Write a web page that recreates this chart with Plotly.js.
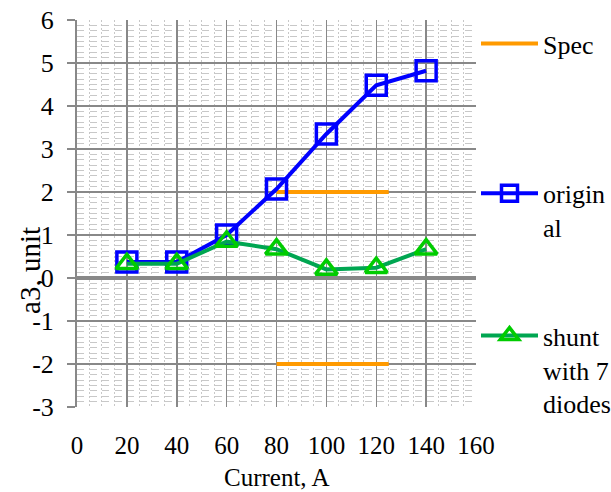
<!DOCTYPE html>
<html>
<head>
<meta charset="utf-8">
<script src="https://cdn.plot.ly/plotly-3.0.1.min.js"></script>
<style>html,body{margin:0;padding:0;background:#fff;}#chart{width:611px;height:492px;}</style>
</head>
<body>
<div id="chart"></div>
<script>
// ---- data ----
const currents = [20, 40, 60, 80, 100, 120, 140];
const originalValues = [0.37, 0.37, 1.0, 2.07, 3.35, 4.48, 4.82];
const shuntValues = [0.33, 0.33, 0.85, 0.67, 0.2, 0.24, 0.67];
const specX = [80, 125, null, 80, 125];
const specY = [2, 2, null, -2, -2];
const xTicks = [0, 20, 40, 60, 80, 100, 120, 140, 160];
const yTicks = [-3, -2, -1, 0, 1, 2, 3, 4, 5, 6];
const names = {spec: 'Spec', original: 'origin<br>al', shunt: 'shunt<br>with 7<br>diodes'};
const xTitle = 'Current, A';
const yTitle = 'a3, unit';

const FONT = '"Liberation Serif"';
const FS = 26;
const GRID = '#888888';
const MINOR = '#c8c8c8';
const txt = (s) => ({family: FONT, size: s || FS, color: '#000'});

const traces = [
  {
    x: specX, y: specY, mode: 'lines', name: names.spec, legend: 'legend',
    connectgaps: false,
    line: {color: '#FF9A00', width: 4}
  },
  {
    x: currents, y: originalValues, mode: 'lines+markers', name: names.original, legend: 'legend2',
    line: {color: '#0000FF', width: 4},
    marker: {symbol: 'square-open', size: 20, color: '#0000FF', line: {width: 3.5, color: '#0000FF'}}
  },
  {
    x: currents, y: shuntValues, mode: 'lines+markers', name: names.shunt, legend: 'legend3',
    line: {color: '#00A651', width: 4},
    marker: {symbol: 'triangle-up-open', size: 19, color: '#00CC00', line: {width: 3.5, color: '#00CC00'}}
  }
];

const legendBase = () => ({
  xanchor: 'left', yanchor: 'top', valign: 'top',
  bgcolor: 'rgba(0,0,0,0)', borderwidth: 0,
  font: txt(),
  itemwidth: 57, tracegroupgap: 0
});

const layout = {
  width: 611, height: 492,
  margin: {l: 77, r: 135, t: 20, b: 85, autoexpand: false},
  paper_bgcolor: '#fff', plot_bgcolor: '#fff',
  font: txt(),
  showlegend: true,
  legend: Object.assign(legendBase(), {x: 1.0, y: 1.0}),
  legend2: Object.assign(legendBase(), {x: 1.0, y: 0.613}),
  legend3: Object.assign(legendBase(), {x: 1.0, y: 0.245}),
  xaxis: {
    range: [0, 160], tickvals: xTicks, ticktext: xTicks.map(String),
    showgrid: true, gridcolor: GRID, gridwidth: 1.5,
    zeroline: false, showline: false, ticks: '',
    ticklabelstandoff: 21,
    tickfont: txt(25),
    minor: {dtick: 5, tick0: 0, showgrid: true, gridcolor: MINOR, gridwidth: 1, griddash: '2px,2px', ticks: ''}
  },
  xaxis2: {
    overlaying: 'x', anchor: 'free', position: 3 / 9, side: 'bottom',
    range: [0, 160], tickvals: xTicks, showticklabels: false,
    ticks: 'outside', ticklen: 6, tickwidth: 3, tickcolor: GRID,
    showgrid: false, zeroline: false, showline: false
  },
  yaxis: {
    range: [-3, 6], tickvals: yTicks, ticktext: yTicks.map(String),
    showgrid: true, gridcolor: GRID, gridwidth: 1.5,
    zeroline: true, zerolinecolor: GRID, zerolinewidth: 4,
    showline: true, linecolor: GRID, linewidth: 2,
    ticks: 'outside', ticklen: 8, tickwidth: 1.5, tickcolor: GRID,
    ticklabelstandoff: 8,
    tickfont: txt(),
    minor: {dtick: 0.125, tick0: 0, showgrid: true, gridcolor: MINOR, gridwidth: 1, griddash: '7px,5.5px', ticks: ''}
  },
  annotations: [
    {
      text: yTitle, textangle: -90, xref: 'paper', yref: 'paper',
      x: -0.118, y: 0.354, xanchor: 'center', yanchor: 'middle', showarrow: false,
      font: txt(29)
    },
    {
      text: xTitle, xref: 'paper', yref: 'paper',
      x: 0.5, y: -85 / 387, xanchor: 'center', yanchor: 'bottom', showarrow: false,
      borderpad: 0, font: txt(25)
    }
  ]
};

Plotly.newPlot('chart', traces, layout, {staticPlot: true, displayModeBar: false});
</script>
</body>
</html>
